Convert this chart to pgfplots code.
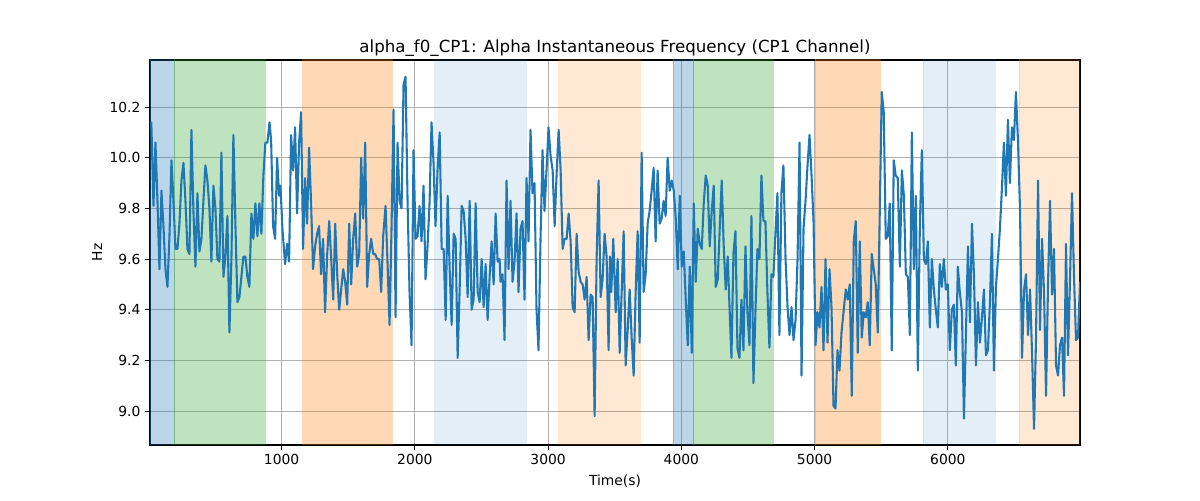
\documentclass[border=0pt]{standalone}
\usepackage{fontspec}
\setmainfont{DejaVu Sans}
\usepackage{pgfplots}
\pgfplotsset{compat=1.18}
\definecolor{tabblue}{HTML}{1F77B4}
\definecolor{tabgreen}{HTML}{2CA02C}
\definecolor{taborange}{HTML}{FF7F0E}
\definecolor{gridgray}{HTML}{B0B0B0}
\pgfplotstableread{
t v
12 10.14
22 10.14
38 9.81
53 10.06
68 9.83
83 9.56
98 9.87
113 9.73
128 9.56
143 9.49
158 9.69
173 9.99
188 9.83
203 9.64
218 9.64
233 9.74
248 9.91
263 9.98
278 9.83
293 9.64
308 9.62
323 10.11
338 9.79
353 9.57
368 9.86
383 9.63
398 9.68
413 9.83
428 9.97
443 9.91
458 9.80
473 9.59
488 9.89
503 9.80
518 9.60
533 9.59
548 10.02
563 9.53
578 9.61
593 9.77
608 9.31
623 9.60
638 10.09
653 9.74
668 9.43
683 9.45
698 9.53
713 9.61
728 9.61
743 9.53
758 9.49
773 9.78
788 9.68
803 9.82
818 9.69
833 9.82
848 9.70
863 9.93
878 10.06
893 10.06
909 10.14
921 10.07
936 9.73
951 9.68
966 10.00
981 9.85
991 9.89
1006 9.72
1026 9.58
1041 9.66
1056 9.59
1071 10.09
1086 9.95
1101 10.12
1116 9.78
1131 10.06
1146 10.18
1161 9.64
1176 9.92
1191 9.74
1206 10.04
1221 9.82
1236 9.56
1251 9.65
1266 9.70
1281 9.73
1296 9.54
1311 9.68
1326 9.39
1342 9.62
1357 9.75
1372 9.60
1387 9.44
1402 9.74
1417 9.54
1432 9.40
1447 9.48
1462 9.56
1477 9.51
1492 9.42
1507 9.74
1522 9.50
1537 9.68
1552 9.78
1567 9.57
1582 9.62
1597 10.00
1612 9.76
1627 10.06
1642 9.49
1657 9.62
1672 9.68
1687 9.62
1702 9.62
1717 9.60
1732 9.60
1747 9.47
1762 9.69
1780 9.81
1795 9.58
1810 9.34
1825 9.73
1840 10.19
1855 9.37
1870 10.06
1885 9.83
1900 9.80
1915 10.29
1930 10.32
1945 9.83
1960 9.47
1975 9.26
1990 10.03
2005 9.68
2020 9.69
2035 9.81
2050 9.67
2065 9.89
2080 9.52
2095 9.65
2110 9.82
2125 10.14
2140 9.98
2155 9.73
2170 9.95
2186 10.10
2201 9.64
2216 9.64
2231 9.36
2246 9.85
2261 9.56
2276 9.34
2291 9.70
2306 9.68
2321 9.21
2336 9.48
2351 9.81
2366 9.79
2381 9.68
2396 9.45
2411 9.83
2426 9.40
2441 9.44
2456 9.82
2471 9.47
2486 9.43
2501 9.60
2516 9.41
2531 9.58
2546 9.36
2561 9.53
2576 9.67
2591 9.50
2606 9.78
2621 9.59
2636 9.60
2643 9.51
2658 9.54
2673 9.28
2688 9.91
2703 9.56
2718 9.83
2733 9.51
2748 9.59
2763 9.78
2778 9.47
2793 9.72
2808 9.75
2823 9.44
2838 9.92
2853 9.67
2868 10.11
2883 9.86
2898 9.90
2913 9.40
2928 9.24
2943 9.68
2958 10.03
2973 9.79
2988 9.95
3003 10.12
3018 10.01
3034 9.95
3049 9.73
3064 9.94
3079 10.11
3094 9.95
3109 9.64
3124 9.68
3139 9.68
3154 9.78
3169 9.67
3184 9.41
3199 9.39
3214 9.70
3229 9.55
3244 9.51
3259 9.50
3274 9.44
3289 9.53
3304 9.28
3319 9.46
3334 9.45
3349 8.98
3364 9.60
3379 9.91
3394 9.45
3409 9.52
3424 9.70
3439 9.61
3454 9.24
3464 9.61
3474 9.47
3489 9.68
3507 9.39
3522 9.60
3537 9.23
3552 9.47
3567 9.71
3582 9.18
3597 9.32
3612 9.48
3627 9.29
3642 9.14
3657 9.47
3672 9.71
3687 9.27
3702 10.02
3717 9.47
3732 9.54
3747 9.74
3762 9.79
3777 9.87
3792 9.96
3807 9.67
3822 9.95
3837 9.74
3852 9.76
3867 9.83
3882 9.77
3897 10.00
3913 9.87
3928 9.91
3943 9.87
3958 9.76
3973 9.56
3988 9.85
4003 9.57
4018 9.63
4033 9.44
4048 9.26
4063 9.57
4078 9.23
4093 9.82
4108 9.51
4123 9.72
4138 9.66
4153 9.64
4168 9.82
4183 9.93
4198 9.89
4213 9.65
4228 9.79
4243 9.89
4258 9.49
4273 9.52
4288 9.72
4303 9.91
4318 9.65
4333 9.48
4348 9.61
4363 9.39
4376 9.21
4391 9.62
4406 9.71
4421 9.25
4436 9.21
4451 9.44
4466 9.24
4481 9.65
4496 9.39
4511 9.26
4526 9.77
4541 9.11
4556 9.39
4571 9.64
4586 9.60
4601 9.93
4616 9.75
4631 9.75
4646 9.47
4661 9.25
4676 9.54
4691 9.53
4706 9.70
4721 9.86
4736 9.30
4751 9.86
4766 9.97
4782 9.60
4797 9.41
4812 9.30
4827 9.41
4842 9.28
4857 9.36
4872 9.60
4887 10.06
4902 9.14
4917 9.72
4932 9.83
4947 9.97
4962 10.09
4977 9.93
4992 9.75
5007 9.26
5022 9.39
5037 9.33
5052 9.49
5067 9.24
5082 9.60
5097 9.27
5112 9.56
5127 9.41
5142 9.02
5157 9.01
5172 9.24
5187 9.16
5202 9.31
5217 9.39
5234 9.48
5249 9.44
5264 9.50
5279 9.06
5294 9.67
5309 9.75
5324 9.23
5339 9.67
5354 9.29
5369 9.39
5384 9.37
5399 9.43
5414 9.26
5429 9.62
5444 9.56
5459 9.50
5474 9.31
5489 9.78
5504 10.26
5519 10.18
5534 9.68
5549 9.69
5564 9.82
5579 9.24
5594 9.99
5609 9.93
5624 9.92
5640 9.57
5655 9.95
5670 9.85
5685 9.54
5700 9.53
5715 9.30
5730 10.10
5745 9.56
5760 9.85
5775 9.16
5790 9.73
5805 10.03
5820 9.60
5835 9.58
5850 9.67
5865 9.33
5880 9.60
5895 9.48
5910 9.40
5925 9.33
5940 9.58
5955 9.49
5970 9.60
5985 9.48
6000 9.50
6015 9.24
6030 9.40
6045 9.42
6060 9.18
6075 9.57
6090 9.47
6106 9.39
6121 8.97
6136 9.31
6151 9.65
6166 9.35
6181 9.74
6196 9.54
6211 9.18
6226 9.43
6241 9.27
6256 9.37
6271 9.48
6286 9.22
6301 9.24
6316 9.43
6331 9.70
6346 9.16
6361 9.49
6376 9.60
6391 9.72
6406 9.88
6421 10.06
6436 9.85
6451 10.15
6466 9.90
6481 10.12
6496 10.07
6511 10.26
6527 10.06
6542 9.79
6557 9.21
6572 9.48
6587 9.54
6602 9.30
6617 9.48
6632 9.23
6647 8.93
6662 9.29
6677 9.91
6692 9.32
6707 9.68
6722 9.47
6737 9.06
6752 9.50
6767 9.83
6782 9.46
6797 9.64
6812 9.18
6827 9.14
6842 9.26
6857 9.29
6872 9.06
6887 9.66
6902 9.22
6917 9.52
6932 9.86
6947 9.53
6962 9.28
6977 9.29
6992 9.51
}\freqdata
\begin{document}
\begin{tikzpicture}
\path[use as bounding box] (-112.5pt,-41.25pt) rectangle (787.5pt,333.75pt);
\begin{axis}[
  at={(0pt,0pt)}, anchor=south west,
  scale only axis, width=697.5pt, height=288.75pt,
  xmin=12, xmax=6992, ymin=8.866, ymax=10.386,
  xtick={1000,2000,3000,4000,5000,6000},
  ytick={9,9.2,9.4,9.6,9.8,10,10.2},
  scaled ticks=false,
  xticklabel style={/pgf/number format/1000 sep={}},
  yticklabel style={/pgf/number format/.cd,fixed,fixed zerofill,precision=1},
  /pgf/number format/assume math mode=true,
  tick label style={font=\fontsize{10.4}{12}\selectfont},
  tick align=outside, tick pos=left,
  major tick length=3.65pt,
  every tick/.style={black, line width=0.83pt},
  axis line style={black, line width=0.83pt},
  grid=major,
  major grid style={gridgray, line width=0.83pt},
  title={alpha\_f0\_CP1: Alpha Instantaneous Frequency (CP1 Channel)},
  title style={at={([yshift=3pt]axis description cs:0.5,1)}, anchor=center, font=\fontsize{12.5}{15}\selectfont},
  xlabel={Time(s)},
  xlabel style={at={([yshift=-27pt]axis description cs:0.5,0)}, anchor=center, font=\fontsize{10.4}{12}\selectfont},
  ylabel={Hz},
  ylabel style={at={([xshift=-39.75pt]axis description cs:0,0.5)}, anchor=center, font=\fontsize{10.4}{12}\selectfont},
]
% shaded segments
\addplot[forget plot, draw=tabblue, draw opacity=0.3, fill=tabblue, fill opacity=0.3] coordinates {(12,8.8) (12,10.5) (193,10.5) (193,8.8)} -- cycle;
\addplot[forget plot, draw=tabgreen, draw opacity=0.3, fill=tabgreen, fill opacity=0.3] coordinates {(193,8.8) (193,10.5) (878,10.5) (878,8.8)} -- cycle;
\addplot[forget plot, draw=taborange, draw opacity=0.3, fill=taborange, fill opacity=0.3] coordinates {(1158,8.8) (1158,10.5) (1828,10.5) (1828,8.8)} -- cycle;
\addplot[forget plot, draw=tabblue, draw opacity=0.12, fill=tabblue, fill opacity=0.12] coordinates {(2148,8.8) (2148,10.5) (2834,10.5) (2834,8.8)} -- cycle;
\addplot[forget plot, draw=taborange, draw opacity=0.18, fill=taborange, fill opacity=0.18] coordinates {(3079,8.8) (3079,10.5) (3690,10.5) (3690,8.8)} -- cycle;
\addplot[forget plot, draw=tabblue, draw opacity=0.3, fill=tabblue, fill opacity=0.3] coordinates {(3936,8.8) (3936,10.5) (4087,10.5) (4087,8.8)} -- cycle;
\addplot[forget plot, draw=tabgreen, draw opacity=0.3, fill=tabgreen, fill opacity=0.3] coordinates {(4087,8.8) (4087,10.5) (4690,10.5) (4690,8.8)} -- cycle;
\addplot[forget plot, draw=taborange, draw opacity=0.3, fill=taborange, fill opacity=0.3] coordinates {(5005,8.8) (5005,10.5) (5493,10.5) (5493,8.8)} -- cycle;
\addplot[forget plot, draw=tabblue, draw opacity=0.12, fill=tabblue, fill opacity=0.12] coordinates {(5814,8.8) (5814,10.5) (6353,10.5) (6353,8.8)} -- cycle;
\addplot[forget plot, draw=taborange, draw opacity=0.18, fill=taborange, fill opacity=0.18] coordinates {(6534,8.8) (6534,10.5) (7100,10.5) (7100,8.8)} -- cycle;
% signal
\addplot[tabblue, line width=1.56pt, line join=round, mark=none] table[x=t, y=v] {\freqdata};
\end{axis}
\end{tikzpicture}
\end{document}
